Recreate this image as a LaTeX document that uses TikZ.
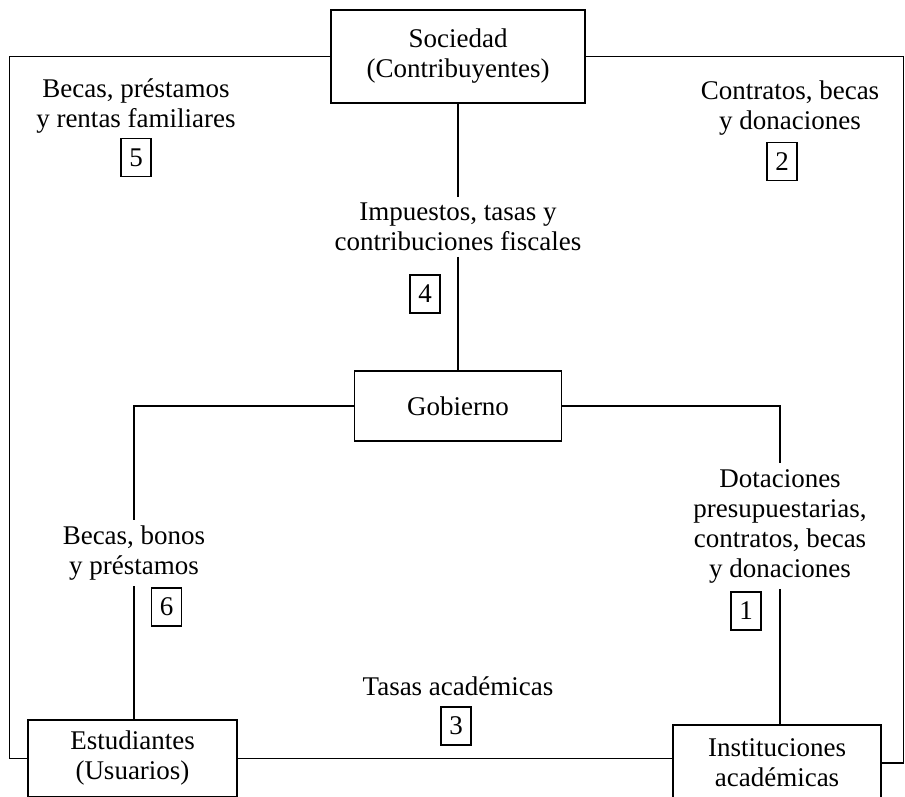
\documentclass[tikz,border=0pt]{standalone}
\usepackage{fontspec}
\setmainfont{Liberation Serif}
\usetikzlibrary{positioning,calc}

\begin{document}
\begin{tikzpicture}
[x=.5pt,y=-.5pt,
font=\fontsize{13.5}{15}\selectfont,
line/.style={black,line width=.7pt},
block/.style={draw=black,line width=.7pt,align=center,inner sep=0pt},
flowtext/.style={align=center,inner sep=0pt,outer sep=3pt},
numbox/.style={draw=black,line width=.6pt,minimum width=15pt,minimum height=19pt,inner sep=0pt}]
\useasboundingbox (0,0) rectangle (905,797);
%%
\node[block,minimum width=127pt,minimum height=46.5pt] (soc) at (458,56.5) {Sociedad\\(Contribuyentes)};
\node[block,minimum width=103.5pt,minimum height=35pt] (gob) at (458,406) {Gobierno};
\node[block,minimum width=104.5pt,minimum height=38.5pt] (est) at (132.5,758.5) {Estudiantes\\(Usuarios)};
\node[block,minimum width=104pt,minimum height=38pt] (inst) at (777,763) {Instituciones\\académicas};
%%
\node[flowtext] (ren) at (136,106) {Becas, préstamos\\y rentas familiares};
\node[flowtext] (con) at (790,108) {Contratos, becas\\y donaciones};
\node[flowtext] (imp) at (458,227) {Impuestos, tasas y\\contribuciones fiscales};
\node[flowtext] (bec) at (134,553) {Becas, bonos\\y préstamos};
\node[flowtext] (dot) at (780,526) {Dotaciones\\presupuestarias,\\contratos, becas\\y donaciones};
\node[flowtext] (tas) at (458,686) {Tasas académicas};
%%
\node[numbox] (n1) at (746,611) {1};
\node[numbox] (n2) at (782,161.5) {2};
\node[numbox] (n3) at (456,726) {3};
\node[numbox] (n4) at (425,294) {4};
\node[numbox] (n5) at (136,157.5) {5};
\node[numbox] (n6) at (166.5,607) {6};
%%
\draw[line] (soc.west) -| ($(est.west)+(-18,0)$) -- (est.west);
\draw[line] (soc.east) -| ($(inst.east)+(22,0)$) -- (inst.east);
\draw[line] (soc.south) -- (imp.north);
\draw[line] (imp.south) -- (gob.north);
\draw[line] (gob.west) -| (bec.north);
\draw[line] (bec.south) -- (bec.south |- est.north);
\draw[line] (gob.east) -| (dot.north);
\draw[line] (dot.south) -- (dot.south |- inst.north);
\draw[line] (est.east) -- (est.east -| inst.west);
\end{tikzpicture}
\end{document}
